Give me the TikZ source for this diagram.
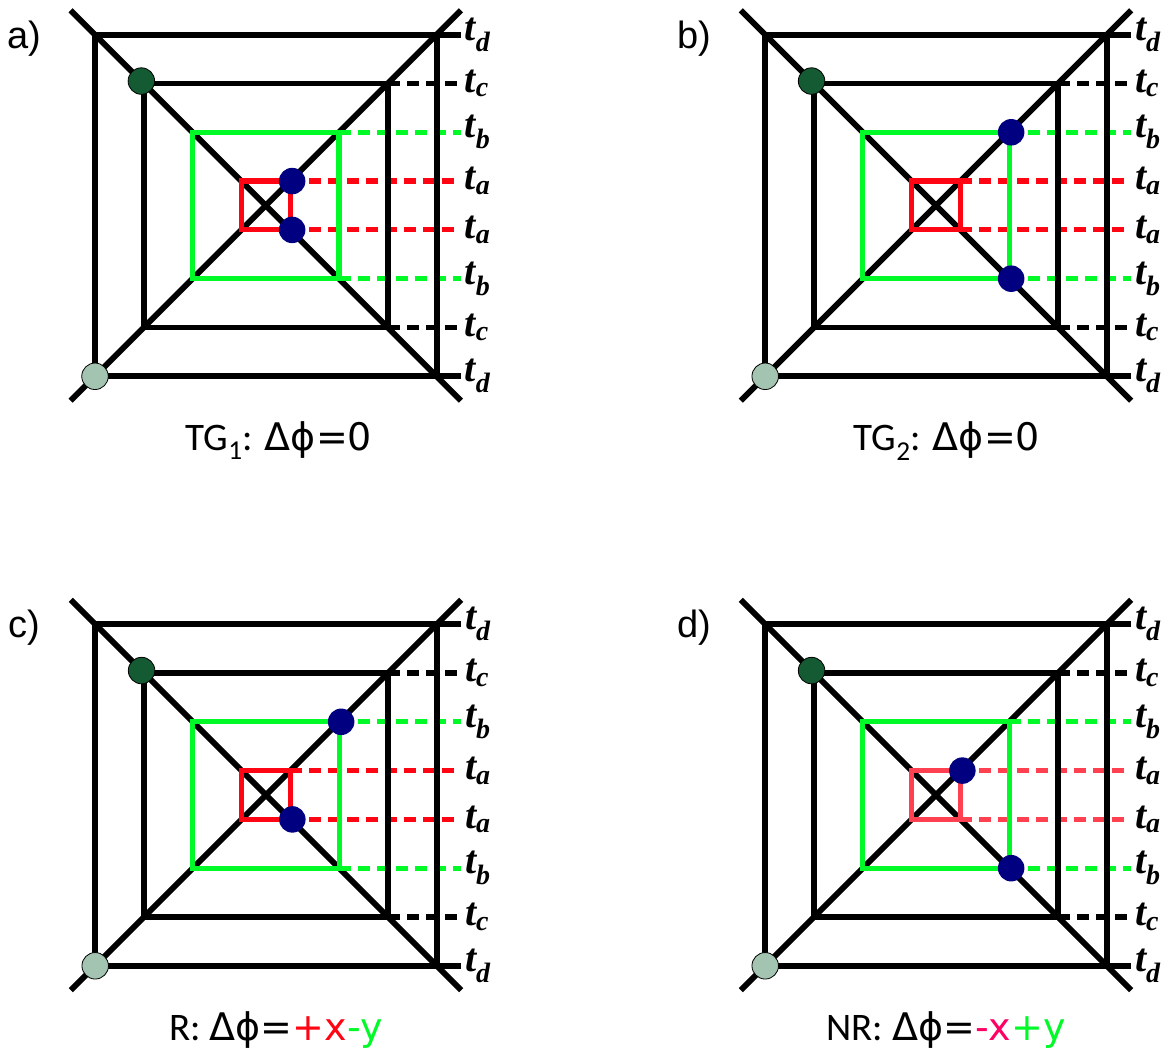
\documentclass[tikz,border=0pt]{standalone}
\usepackage{fontspec}
\setmainfont{Liberation Sans}
\newfontfamily\capfont{Carlito}
\newfontfamily\phifont{DejaVu Sans}
\newfontfamily\tfont{Liberation Serif}
\definecolor{tred}{RGB}{255,5,20}
\definecolor{tpink}{RGB}{255,64,80}
\definecolor{tgreen}{RGB}{0,250,40}
\definecolor{xpink}{RGB}{255,0,100}
\definecolor{navy}{RGB}{0,0,128}
\definecolor{dkgreen}{RGB}{20,90,50}
\definecolor{ltgreen}{RGB}{163,196,176}
\begin{document}
\begin{tikzpicture}[
    x=1pt, y=1pt,
    grid/.style={line width=5.8pt},
    cframe/.style={line width=5.2pt},
    tdash/.style={line width=5.2pt, dash pattern=on 12pt off 7pt},
    dot/.style={circle, inner sep=0pt, minimum size=26.5pt},
    tlab/.style={
        anchor=west,
        inner sep=0pt,
        font=\tfont\bfseries\itshape\fontsize{40}{40}\selectfont
    },
    plab/.style={font=\fontsize{38}{38}\selectfont},
    captext/.style={anchor=base, font=\capfont\fontsize{39}{39}\selectfont}
]
    \useasboundingbox (0,0) rectangle (1169,1055);

    % the four panels
    \foreach \cx/\cy/\lab/\rc/\pa/\pb in {
        265.8/849.5/a/tred/1/1,
        936/849.5/b/tred/3/3,
        266/260/c/tred/3/1,
        936/260/d/tpink/1/3}
    {
    \begin{scope}[shift={(\cx pt,\cy pt)}, x=24.4pt, y=24.4pt]
        % diagonals
        \draw[grid] (-8,8) -- (8,-8);
        \draw[grid] (-8,-8) -- (8,8);

        % dashed time lines
        \draw[tdash] (5,5) -- (8,5) (5,-5) -- (8,-5);
        \draw[tdash, tgreen] (3,3) -- (8,3) (3,-3) -- (8,-3);
        \draw[tdash, \rc] (1,1) -- (8,1) (1,-1) -- (8,-1);

        % black frames
        \draw[grid] (8,7) -- (-7,7) -- (-7,-7) -- (8,-7);
        \draw[grid] (7,7) -- (7,-7);
        \draw[grid] (-5,-5) rectangle (5,5);

        % coloured frames
        \draw[cframe, tgreen] (-3,-3) rectangle (3,3);
        \draw[cframe, \rc] (-1,-1) rectangle (1,1);

        % time labels
        \foreach \yy/\s in {7/d, 5/c, 3/b, 1/a, -1/a, -3/b, -5/c, -7/d}
            \node[tlab] (t\s\yy-\lab) at (8.15,\yy) {t\textsubscript{\s}};

        % dots
        \node[dot, draw=black, line width=0.8pt, fill=dkgreen] (dk-\lab) at (-5.1,5.1) {};
        \node[dot, draw=black, line width=0.8pt, fill=ltgreen] (lt-\lab) at (-7,-7) {};
        \node[dot, fill=navy] (up-\lab) at (\pa+0.08,\pa) {};
        \node[dot, fill=navy] (dn-\lab) at (\pb+0.08,-\pb) {};

        % panel letter
        \node[plab] (lab-\lab) at (-9.9,6.85) {\lab)};
    \end{scope}
    }

    % captions
    \node[captext] (capa) at (279,604) {TG\textsubscript{1}: {\phifont\fontsize{38}{38}\selectfont Δϕ=0}};
    \node[captext] (capb) at (947,604) {TG\textsubscript{2}: {\phifont\fontsize{38}{38}\selectfont Δϕ=0}};
    \node[captext] (capc) at (276,15) {R: {\phifont\fontsize{38}{38}\selectfont Δϕ=\textcolor{tred}{+x}\textcolor{tgreen}{-y}}};
    \node[captext] (capd) at (946,15) {NR: {\phifont\fontsize{38}{38}\selectfont Δϕ=\textcolor{xpink}{-x}\textcolor{tgreen}{+y}}};

\end{tikzpicture}
\end{document}
